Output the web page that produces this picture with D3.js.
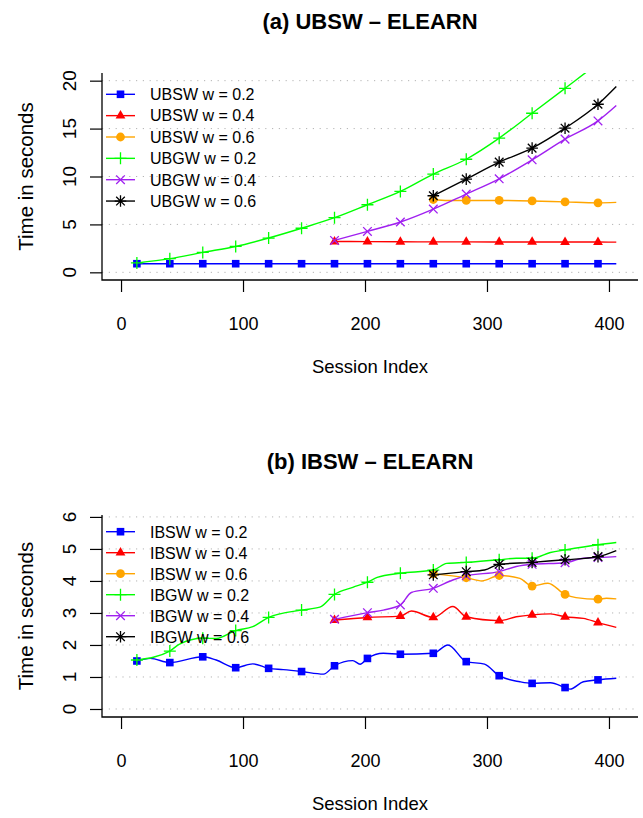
<!DOCTYPE html>
<html><head><meta charset="utf-8">
<script src="https://cdn.jsdelivr.net/npm/d3@7"></script>
<style>body{margin:0;background:#fff} svg{display:block} text{font-family:"Liberation Sans",Arial,Helvetica,sans-serif;fill:#000}</style>
</head><body><svg id="c" width="643" height="818"></svg>
<script>
// ---------------- DATA ----------------
const sessionTicks = [0, 100, 200, 300, 400];
const markerSessions = [13, 40, 67, 94, 121, 148, 175, 202, 229, 256, 283, 310, 337, 364, 391];
const yTicksA = [0, 5, 10, 15, 20];
const yTicksB = [0, 1, 2, 3, 4, 5, 6];
const titleA = "(a) UBSW \u2013 ELEARN";
const titleB = "(b) IBSW \u2013 ELEARN";
const xLabel = "Session Index";
const yLabel = "Time in seconds";
const namesA = ["UBSW w = 0.2", "UBSW w = 0.4", "UBSW w = 0.6", "UBGW w = 0.2", "UBGW w = 0.4", "UBGW w = 0.6"];
const namesB = ["IBSW w = 0.2", "IBSW w = 0.4", "IBSW w = 0.6", "IBGW w = 0.2", "IBGW w = 0.4", "IBGW w = 0.6"];
const seriesColors = ["#0000FF", "#FF0000", "#FFA500", "#00FF00", "#A020F0", "#000000"];
const seriesShapes = ["square", "triangle", "circle", "plus", "cross", "star"];

// panel (a)
const a_ubsw02_x = [13, 40, 67, 94, 121, 148, 175, 202, 229, 256, 283, 310, 337, 364, 391, 406];
const a_ubsw02_y = [0.9, 0.9, 0.9, 0.9, 0.9, 0.9, 0.9, 0.9, 0.9, 0.9, 0.9, 0.9, 0.9, 0.9, 0.9, 0.9];
const a_ubsw04_x = [175, 202, 229, 256, 283, 310, 337, 364, 391, 406];
const a_ubsw04_y = [3.22, 3.2, 3.19, 3.18, 3.18, 3.17, 3.17, 3.16, 3.16, 3.15];
const a_ubsw06_x = [256, 268, 283, 310, 337, 364, 391, 406];
const a_ubsw06_y = [7.6, 7.5, 7.5, 7.5, 7.45, 7.35, 7.25, 7.3];
const a_ubgw02_x = [13, 40, 67, 94, 121, 148, 175, 202, 229, 256, 283, 310, 337, 364, 391, 406];
const a_ubgw02_y = [0.98, 1.43, 2.08, 2.7, 3.58, 4.6, 5.7, 7.05, 8.44, 10.25, 11.8, 14.0, 16.6, 19.2, 21.8, 23.2];
const a_ubgw04_x = [175, 202, 229, 256, 283, 310, 337, 364, 391, 406];
const a_ubgw04_y = [3.33, 4.27, 5.25, 6.6, 8.17, 9.76, 11.74, 13.9, 15.8, 17.4];
const a_ubgw06_x = [256, 283, 310, 337, 364, 391, 406];
const a_ubgw06_y = [7.99, 9.73, 11.5, 12.96, 15.04, 17.54, 19.4];

// panel (b)
const b_ibsw02_x = [13, 24, 40, 67, 78, 94, 108, 121, 133, 148, 166, 175, 190, 196, 202, 215, 229, 256, 268, 283, 298, 310, 327, 337, 352, 364, 368, 379, 391, 406];
const b_ibsw02_y = [1.5, 1.58, 1.45, 1.63, 1.53, 1.29, 1.41, 1.27, 1.23, 1.17, 1.09, 1.35, 1.51, 1.4, 1.58, 1.74, 1.71, 1.74, 2.0, 1.48, 1.4, 1.04, 0.85, 0.8, 0.82, 0.67, 0.62, 0.85, 0.91, 0.96];
const b_ibsw04_x = [175, 202, 229, 238, 256, 272, 283, 310, 324, 337, 352, 364, 379, 391, 406];
const b_ibsw04_y = [2.78, 2.86, 2.9, 3.06, 2.86, 3.2, 2.88, 2.76, 2.88, 2.94, 2.97, 2.88, 2.83, 2.7, 2.55];
const b_ibsw06_x = [256, 283, 296, 310, 327, 337, 350, 364, 373, 391, 398, 406];
const b_ibsw06_y = [4.22, 4.1, 4.0, 4.17, 4.08, 3.84, 3.93, 3.58, 3.48, 3.43, 3.46, 3.44];
const b_ibgw02_x = [13, 40, 48, 67, 78, 94, 108, 121, 148, 163, 175, 190, 202, 210, 229, 256, 267, 283, 310, 324, 337, 352, 364, 391, 406];
const b_ibgw02_y = [1.53, 1.81, 2.03, 2.21, 2.2, 2.45, 2.57, 2.86, 3.09, 3.18, 3.58, 3.8, 3.96, 4.11, 4.24, 4.34, 4.55, 4.58, 4.66, 4.71, 4.71, 4.89, 4.97, 5.13, 5.2];
const b_ibgw04_x = [175, 202, 215, 229, 238, 256, 272, 283, 310, 324, 337, 364, 379, 391, 406];
const b_ibgw04_y = [2.8, 3.01, 3.09, 3.25, 3.64, 3.77, 4.03, 4.16, 4.29, 4.45, 4.52, 4.57, 4.71, 4.73, 4.76];
const b_ibgw06_x = [256, 283, 298, 310, 337, 364, 391, 406];
const b_ibgw06_y = [4.19, 4.29, 4.34, 4.52, 4.58, 4.66, 4.76, 4.95];

// ---------------- DRAW ----------------
const zip = (xs, ys) => xs.map((x, i) => ({x, y: ys[i]}));
const svg = d3.select("#c");

const panels = [
  {id: "a", top: 73, bottom: 280, yDomain: [-0.8, 20.8], yTicks: yTicksA, title: titleA, titleY: 29,
   names: namesA, legendY0: 94.3, legendStep: 21.35,
   series: [zip(a_ubsw02_x, a_ubsw02_y), zip(a_ubsw04_x, a_ubsw04_y), zip(a_ubsw06_x, a_ubsw06_y),
            zip(a_ubgw02_x, a_ubgw02_y), zip(a_ubgw04_x, a_ubgw04_y), zip(a_ubgw06_x, a_ubgw06_y)]},
  {id: "b", top: 515, bottom: 717, yDomain: [-0.25, 6.06], yTicks: yTicksB, title: titleB, titleY: 469,
   names: namesB, legendY0: 531.7, legendStep: 21,
   series: [zip(b_ibsw02_x, b_ibsw02_y), zip(b_ibsw04_x, b_ibsw04_y), zip(b_ibsw06_x, b_ibsw06_y),
            zip(b_ibgw02_x, b_ibgw02_y), zip(b_ibgw04_x, b_ibgw04_y), zip(b_ibgw06_x, b_ibgw06_y)]}
];
const left = 102, right = 638;

function marker(g, shape, color, cx, cy) {
  const sw = 1.3;
  if (shape === "square") {
    g.append("rect").attr("x", cx - 3.8).attr("y", cy - 3.8).attr("width", 7.6).attr("height", 7.6).attr("fill", color);
  } else if (shape === "triangle") {
    g.append("path").attr("d", `M${cx},${cy - 5.6}L${cx + 4.9},${cy + 2.9}L${cx - 4.9},${cy + 2.9}Z`).attr("fill", color);
  } else if (shape === "circle") {
    g.append("circle").attr("cx", cx).attr("cy", cy).attr("r", 4.4).attr("fill", color);
  } else if (shape === "plus") {
    g.append("path").attr("d", `M${cx - 6},${cy}H${cx + 6}M${cx},${cy - 6}V${cy + 6}`).attr("stroke", color).attr("stroke-width", sw).attr("fill", "none");
  } else if (shape === "cross") {
    const r = 4.3;
    g.append("path").attr("d", `M${cx - r},${cy - r}L${cx + r},${cy + r}M${cx - r},${cy + r}L${cx + r},${cy - r}`).attr("stroke", color).attr("stroke-width", sw).attr("fill", "none");
  } else if (shape === "star") {
    const r = 4.3, p = 5.8;
    g.append("path").attr("d", `M${cx - r},${cy - r}L${cx + r},${cy + r}M${cx - r},${cy + r}L${cx + r},${cy - r}M${cx - p},${cy}H${cx + p}M${cx},${cy - p}V${cy + p}`).attr("stroke", color).attr("stroke-width", sw).attr("fill", "none");
  }
}

panels.forEach(p => {
  const x = d3.scaleLinear().domain([-15.6, 423.8]).range([left, right]);
  const y = d3.scaleLinear().domain(p.yDomain).range([p.bottom, p.top]);
  const g = svg.append("g");

  svg.append("clipPath").attr("id", "clip" + p.id).append("rect")
    .attr("x", left).attr("y", p.top).attr("width", right - left).attr("height", p.bottom - p.top);

  // grid
  g.selectAll(".grid").data(p.yTicks).join("line")
    .attr("x1", left).attr("x2", right).attr("y1", d => y(d)).attr("y2", d => y(d))
    .attr("stroke", "#b4b4b4").attr("stroke-width", 1).attr("stroke-dasharray", "1.2,5.6");

  // y axis (ticks via d3 axis, labels rotated like R's las=0)
  const ya = d3.axisLeft(y).tickValues(p.yTicks).tickSize(12).tickFormat("");
  const yg = g.append("g").attr("transform", `translate(${left},0)`).call(ya);
  yg.select(".domain").remove();
  yg.selectAll(".tick line").attr("stroke", "#000").attr("stroke-width", 1.2);
  yg.selectAll(".tick text").remove();
  g.append("g").selectAll("text").data(p.yTicks).join("text")
    .attr("transform", d => `translate(${left - 26},${y(d)}) rotate(-90)`)
    .attr("text-anchor", "middle").attr("font-size", 19).text(d => d);

  // x axis
  const xa = d3.axisBottom(x).tickValues(sessionTicks).tickSize(12).tickPadding(0).tickFormat(d3.format("d"));
  const xg = g.append("g").attr("transform", `translate(0,${p.bottom})`).call(xa);
  xg.select(".domain").remove();
  xg.selectAll(".tick line").attr("stroke", "#000").attr("stroke-width", 1.2);
  xg.selectAll(".tick text").attr("font-size", 18).attr("y", 50).attr("dy", "0").attr("fill", "#000");

  // box lines (left + bottom)
  g.append("path").attr("d", `M${left},${p.top}V${p.bottom}H${right}`).attr("fill", "none")
    .attr("stroke", "#000").attr("stroke-width", 1.3);

  // series
  const lineGen = d3.line().x(d => x(d.x)).y(d => y(d.y)).curve(d3.curveMonotoneX);
  const sg = g.append("g").attr("clip-path", `url(#clip${p.id})`);
  p.series.forEach((s, i) => {
    sg.append("path").attr("d", lineGen(s)).attr("fill", "none")
      .attr("stroke", seriesColors[i]).attr("stroke-width", 1.4);
  });
  p.series.forEach((s, i) => {
    s.filter(d => markerSessions.includes(d.x)).forEach(d => {
      if (y(d.y) >= p.top) marker(sg, seriesShapes[i], seriesColors[i], x(d.x), y(d.y));
    });
  });

  // legend
  const lg = g.append("g");
  p.names.forEach((n, i) => {
    const ly = p.legendY0 + i * p.legendStep;
    lg.append("line").attr("x1", 106).attr("x2", 135).attr("y1", ly).attr("y2", ly)
      .attr("stroke", seriesColors[i]).attr("stroke-width", 1.4);
    marker(lg, seriesShapes[i], seriesColors[i], 120.5, ly);
    lg.append("text").attr("x", 150).attr("y", ly + 5.8).attr("font-size", 16).text(n);
  });

  // titles
  g.append("text").attr("x", 370).attr("y", p.titleY).attr("text-anchor", "middle")
    .attr("font-size", 22).attr("font-weight", "bold").text(p.title);
  g.append("text").attr("x", 370).attr("y", p.bottom + 93).attr("text-anchor", "middle")
    .attr("font-size", 18.5).text(xLabel);
  g.append("text").attr("transform", `translate(33,${(p.top + p.bottom) / 2}) rotate(-90)`)
    .attr("text-anchor", "middle").attr("font-size", 20.5).text(yLabel);
});
</script></body></html>
